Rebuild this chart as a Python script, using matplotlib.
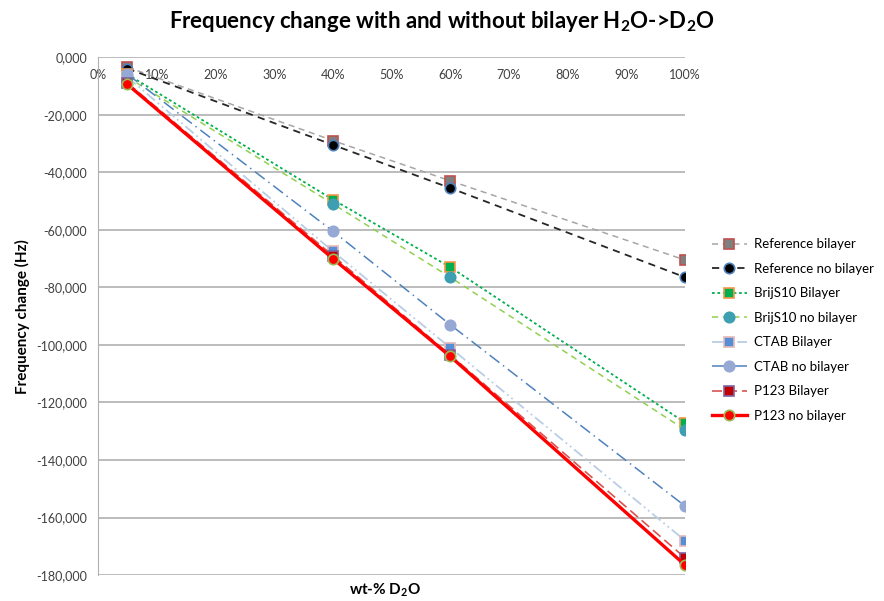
import matplotlib.pyplot as plt
from matplotlib.ticker import FuncFormatter

plt.rcParams['font.family'] = ['Lato', 'DejaVu Sans']
plt.rcParams['mathtext.fontset'] = 'custom'
plt.rcParams['mathtext.rm'] = 'Lato'
plt.rcParams['mathtext.bf'] = 'Lato:bold'

# wt-% D2O
x_pct = [5, 40, 60, 100]

ref_bilayer = [-3.5, -29.0, -43.0, -70.5]
ref_no_bilayer = [-4.0, -30.5, -45.5, -76.5]
brij_bilayer = [-6.0, -49.5, -73.0, -127.0]
brij_no_bilayer = [-7.0, -51.0, -76.5, -129.5]
ctab_bilayer = [-7.0, -67.5, -101.0, -168.0]
ctab_no_bilayer = [-6.0, -60.5, -93.0, -156.0]
p123_bilayer = [-9.0, -69.0, -103.5, -174.0]
p123_no_bilayer = [-9.5, -70.0, -104.0, -176.5]

series_names = ['Reference bilayer', 'Reference no bilayer', 'BrijS10 Bilayer', 'BrijS10 no bilayer',
                'CTAB Bilayer', 'CTAB no bilayer', 'P123 Bilayer', 'P123 no bilayer']
series_values = [ref_bilayer, ref_no_bilayer, brij_bilayer, brij_no_bilayer,
                 ctab_bilayer, ctab_no_bilayer, p123_bilayer, p123_no_bilayer]

# (line color, linestyle, width, marker, face, edge)
styles = [
    ('#a6a6a6', (0, (4, 3)), 1.1, 's', '#7f7f7f', '#c0504d'),
    ('#262626', (0, (4, 3)), 1.3, 'o', '#000000', '#4f81bd'),
    ('#00b050', (0, (1.5, 1.5)), 1.3, 's', '#00b050', '#f79646'),
    ('#92d050', (0, (4, 3)), 1.1, 'o', '#3d9fb1', '#3d9fb1'),
    ('#b9cde5', (0, (6, 2, 1, 2, 1, 2)), 1.3, 's', '#558ed5', '#e6b9b8'),
    ('#4f81bd', (0, (8, 3, 1, 3)), 1.1, 'o', '#95a9d4', '#95a9d4'),
    ('#d9534f', (0, (6, 3)), 1.2, 's', '#c00000', '#8064a2'),
    ('#ff0000', '-', 2.4, 'o', '#ff0000', '#9bbb59'),
]

fig = plt.figure(figsize=(8.84, 6.01), dpi=100)
ax = fig.add_axes([0.111, 0.043, 0.664, 0.862])

for name, vals, (lc, ls, lw, mk, fc, ec) in zip(series_names, series_values, styles):
    ax.plot(x_pct, vals, color=lc, linestyle=ls, linewidth=lw, marker=mk, markersize=7.5,
            markerfacecolor=fc, markeredgecolor=ec, markeredgewidth=1.2, label=name)

ax.set_xlim(0, 100)
ax.set_ylim(-180, 0)
ax.set_xticks(range(0, 101, 10))
ax.set_yticks(range(-180, 1, 20))
ax.xaxis.set_major_formatter(FuncFormatter(lambda v, p: f'{int(v)}%'))
ax.yaxis.set_major_formatter(FuncFormatter(lambda v, p: f'{v:.3f}'.replace('.', ',')))
ax.xaxis.set_ticks_position('top')
ax.tick_params(axis='x', length=0, pad=-17, labelsize=9, colors='#404040')
ax.tick_params(axis='y', length=0, pad=8, labelsize=9, colors='#404040')
ax.grid(axis='y', color='#b0b0b0', linewidth=1.2)
ax.set_axisbelow(True)
for s in ['top', 'right', 'bottom']:
    ax.spines[s].set_visible(False)
ax.spines['left'].set_color('#b0b0b0')

ax.set_ylabel('Frequency change (Hz)', fontsize=11, fontweight='bold', labelpad=4)
fig.text(0.436, 0.018, r'wt-% D$_\mathbf{2}$O', ha='center', va='center', fontsize=11, fontweight='bold')
fig.suptitle(r'Frequency change with and without bilayer H$_\mathbf{2}$O->D$_\mathbf{2}$O',
             x=0.5, y=0.985, fontsize=16, fontweight='bold')

ax.legend(loc='center left', bbox_to_anchor=(1.045, 0.473), frameon=False, fontsize=9.5,
          handlelength=2.7, handletextpad=0.5, labelspacing=0.95, borderaxespad=0, borderpad=0)

fig.savefig('out.png', dpi=100)
